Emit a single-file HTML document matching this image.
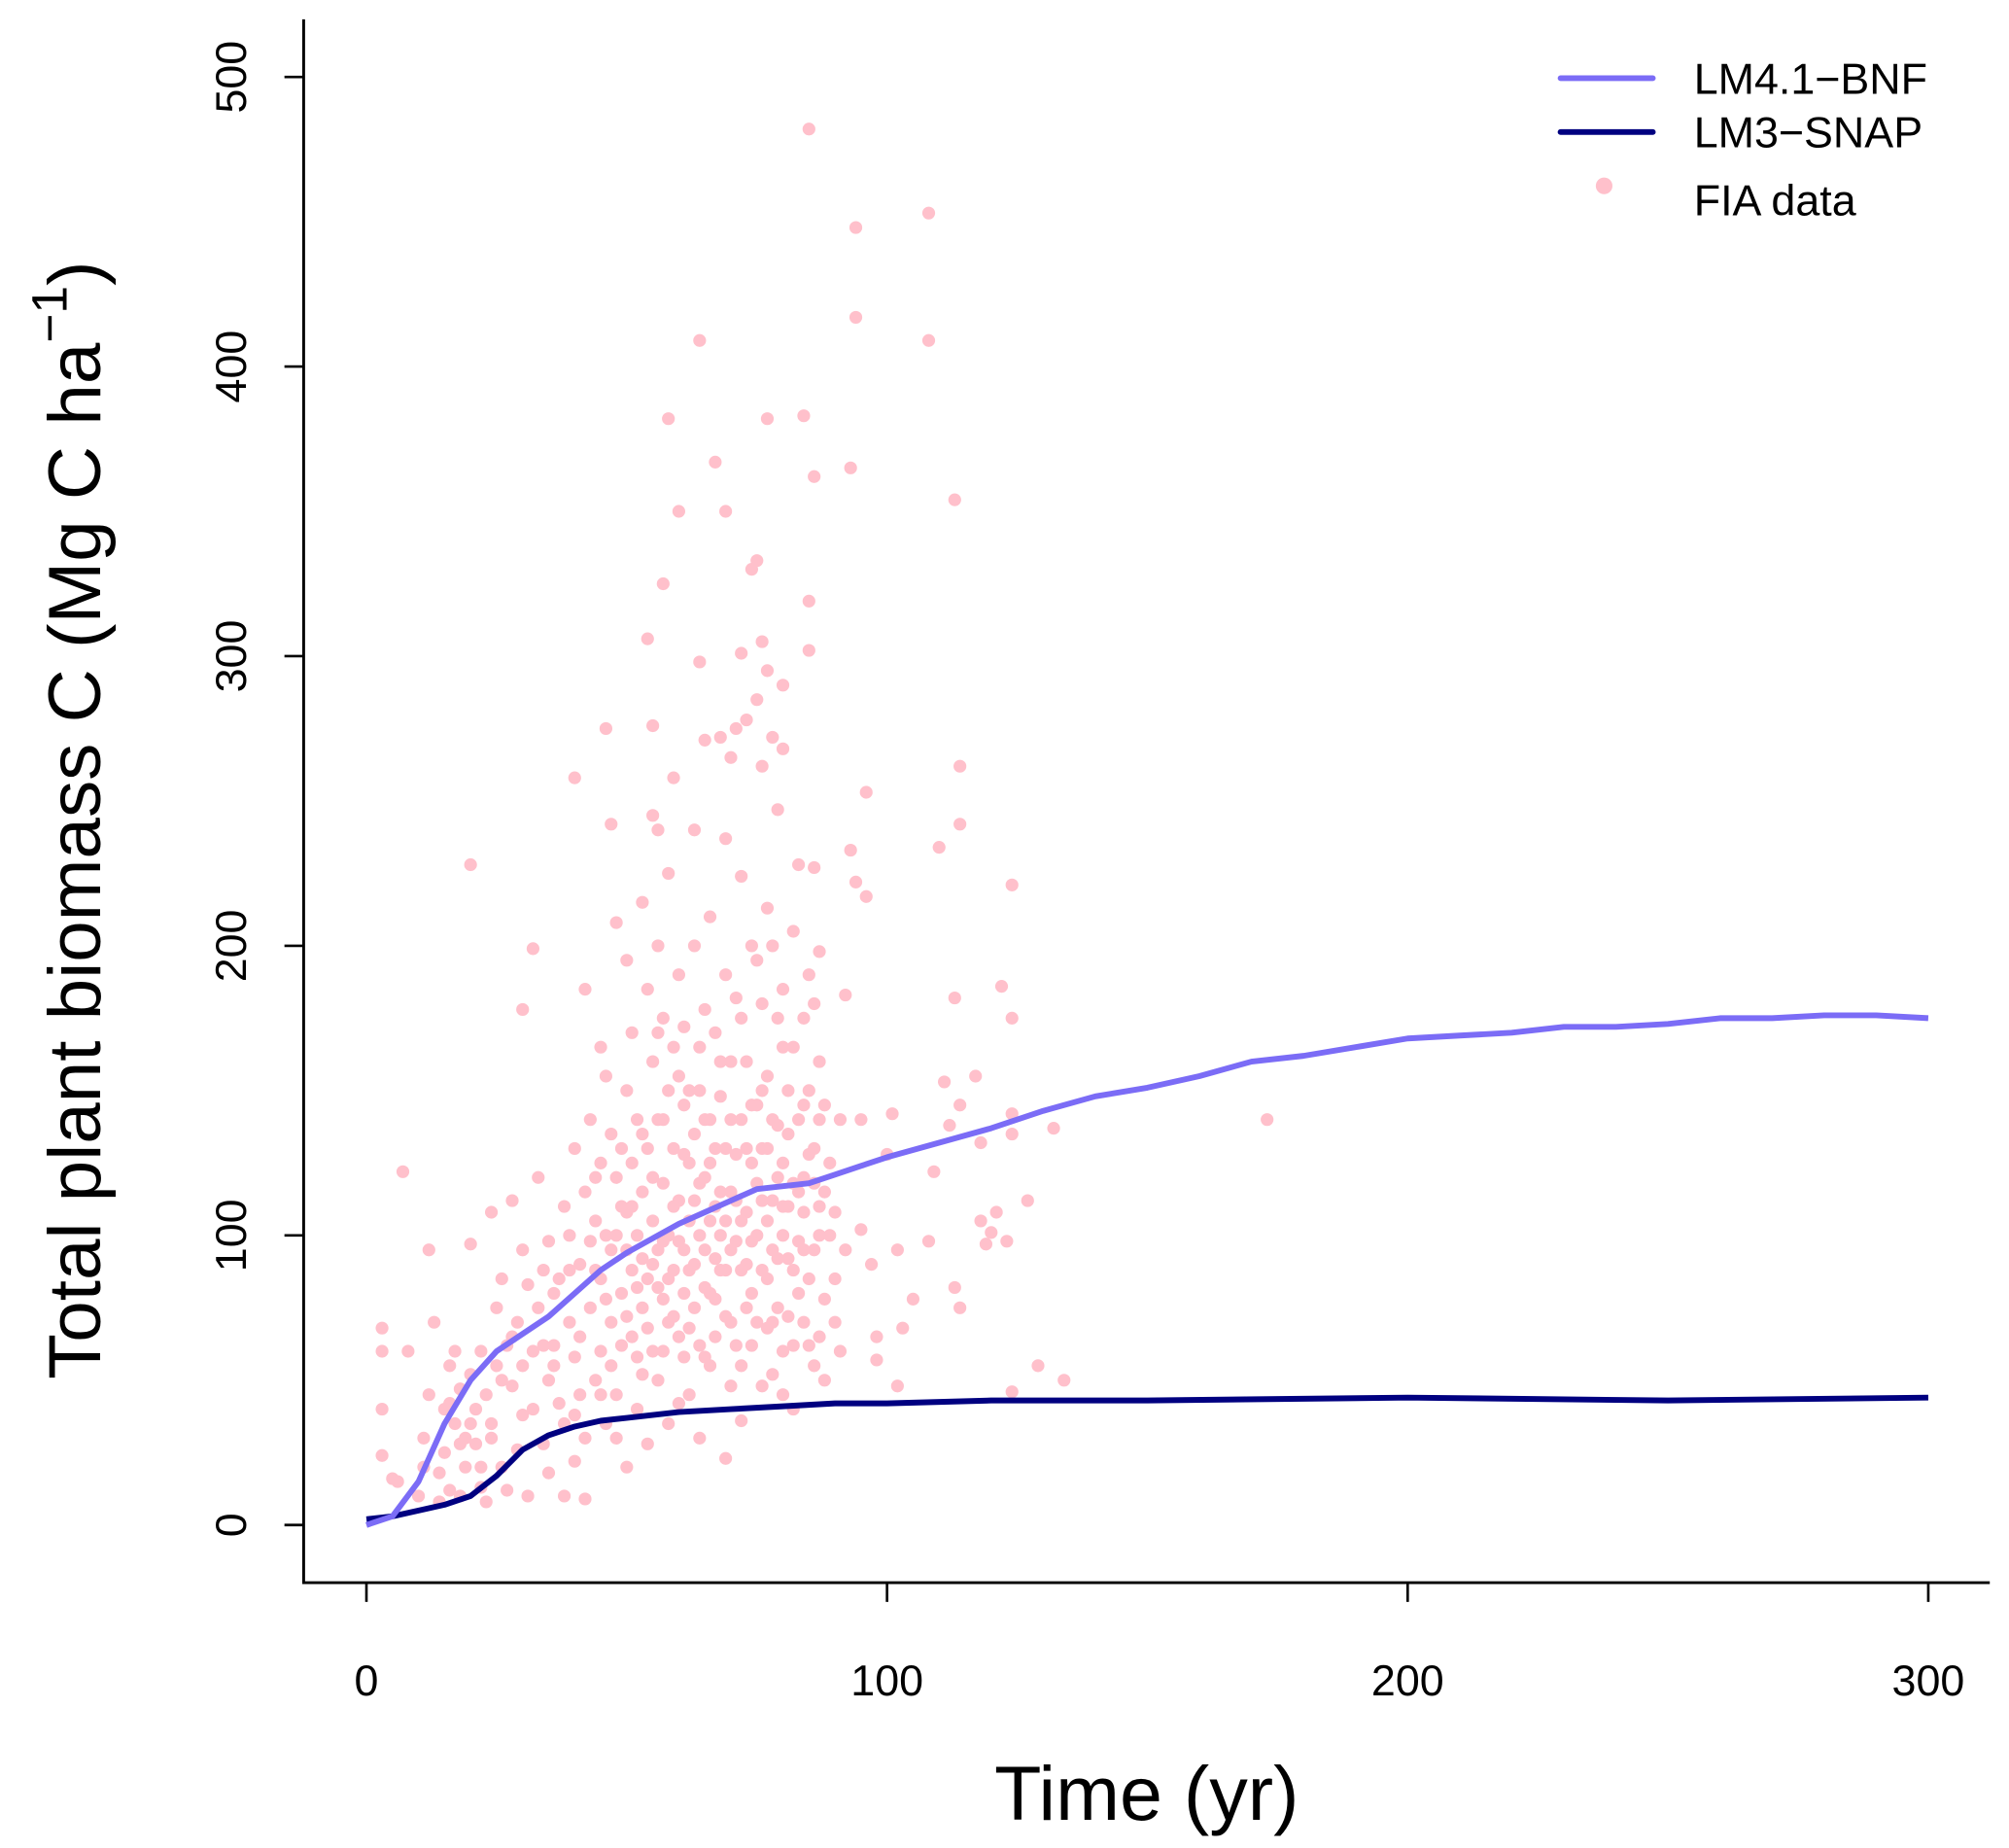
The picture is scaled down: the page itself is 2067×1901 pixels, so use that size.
<!DOCTYPE html>
<html><head><meta charset="utf-8"><style>
html,body{margin:0;padding:0;background:#fff;}
svg{display:block;font-family:"Liberation Sans",sans-serif;}
</style></head><body>
<svg id="chart" width="2067" height="1901" viewBox="0 0 1568 1442" xmlns="http://www.w3.org/2000/svg">
<rect width="1568" height="1442" fill="#fff"/>
<g id="points"></g>
<g id="lines"></g>
<g id="axes" stroke="#000" stroke-width="2.2" fill="none">
<line x1="237" y1="15" x2="237" y2="1236"/>
<line x1="236" y1="1235" x2="1553" y2="1235"/>
</g>
<g id="ticks"></g>
<text x="895" y="1420" font-size="60" text-anchor="middle">Time (yr)</text>
<text transform="translate(78,640) rotate(-90)" font-size="58" text-anchor="middle">Total plant biomass C (Mg C ha<tspan font-size="39" dy="-26">−1</tspan><tspan dy="26">)</tspan></text>
<g>
<line x1="1218" y1="61" x2="1290" y2="61" stroke="#7B6CF6" stroke-width="4.5" stroke-linecap="round"/>
<text x="1322" y="73" font-size="34">LM4.1−BNF</text>
<line x1="1218" y1="103" x2="1290" y2="103" stroke="#000080" stroke-width="4.5" stroke-linecap="round"/>
<text x="1322" y="115" font-size="34">LM3−SNAP</text>
<circle cx="1252" cy="145" r="6.5" fill="#FFC0CB"/>
<text x="1322" y="168" font-size="34">FIA data</text>
</g>
</svg>
<script>
const xTicks=[0,100,200,300];
const yTicks=[0,100,200,300,400,500];
const bnfYears=[0,5,10,15,20,25,30,35,40,45,50,55,60,65,70,75,80,85,90,95,100,110,120,130,140,150,160,170,180,190,200,210,220,230,240,250,260,270,280,290,300];
const bnfValues=[0,3,15,35,50,60,66,72,80,88,94,99,104,108,112,116,117,118,121,124,127,132,137,143,148,151,155,160,162,165,168,169,170,172,172,173,175,175,176,176,175];
const snapYears=[0,5,10,15,20,25,30,35,40,45,50,55,60,70,80,90,100,120,150,200,250,300];
const snapValues=[2,3,5,7,10,17,26,31,34,36,37,38,39,40,41,42,42,43,43,44,43,44];
const fiaPoints=[[3,68],[3,60],[3,40],[3,24],[5,16],[6,15],[7,122],[8,60],[10,10],[11,20],[11,30],[12,45],[12,95],[13,70],[14,18],[14,8],[15,40],[15,25],[16,12],[16,55],[17,60],[17,35],[18,10],[18,47],[19,30],[19,20],[20,228],[20,97],[20,52],[21,40],[21,28],[22,60],[22,13],[23,45],[23,8],[24,108],[24,35],[25,55],[25,75],[26,20],[26,85],[27,62],[27,12],[28,112],[28,48],[29,70],[29,26],[30,178],[30,95],[30,55],[31,83],[31,10],[32,199],[32,40],[33,120],[33,75],[34,62],[34,28],[35,98],[35,50],[35,18],[36,80],[36,62],[37,85],[38,110],[38,35],[38,10],[39,100],[39,70],[40,258],[40,130],[40,58],[40,22],[41,90],[41,45],[42,185],[42,115],[42,9],[43,140],[43,75],[44,105],[44,50],[45,165],[45,125],[45,85],[45,60],[46,275],[46,155],[46,100],[46,35],[47,242],[47,135],[47,70],[48,208],[48,120],[48,45],[49,110],[49,80],[50,195],[50,150],[50,95],[50,20],[51,170],[51,125],[51,65],[52,140],[52,100],[52,40],[53,215],[53,115],[53,75],[54,306],[54,185],[54,130],[54,85],[55,276],[55,245],[55,160],[55,105],[55,60],[56,240],[56,200],[56,140],[56,95],[56,50],[57,325],[57,175],[57,118],[57,78],[58,382],[58,225],[58,150],[58,100],[58,35],[59,258],[59,130],[59,88],[60,350],[60,190],[60,112],[60,65],[61,172],[61,128],[61,80],[62,150],[62,105],[62,45],[63,240],[63,200],[63,135],[63,90],[64,409],[64,298],[64,165],[64,118],[64,30],[65,271],[65,178],[65,140],[65,95],[65,58],[66,210],[66,125],[66,80],[67,367],[67,170],[67,110],[67,65],[68,272],[68,148],[68,100],[69,350],[69,237],[69,190],[69,130],[69,88],[69,23],[70,265],[70,160],[70,115],[70,70],[71,275],[71,182],[71,98],[72,301],[72,224],[72,140],[72,55],[73,278],[73,160],[73,108],[74,330],[74,200],[74,125],[74,80],[75,333],[75,285],[75,195],[75,145],[75,100],[76,305],[76,262],[76,180],[76,130],[76,48],[77,382],[77,295],[77,213],[77,155],[77,85],[78,272],[78,200],[78,112],[78,70],[79,247],[79,175],[79,138],[79,92],[80,290],[80,268],[80,185],[80,125],[80,60],[81,150],[81,110],[82,205],[82,165],[82,88],[82,40],[83,228],[83,140],[83,98],[84,383],[84,175],[84,120],[84,70],[85,482],[85,319],[85,302],[85,190],[85,150],[85,85],[86,362],[86,227],[86,180],[86,130],[86,95],[87,198],[87,160],[87,110],[87,65],[88,145],[88,115],[88,50],[90,108],[90,85],[91,140],[91,60],[92,183],[93,365],[93,233],[94,448],[94,417],[94,222],[95,140],[95,102],[96,253],[96,217],[97,90],[98,65],[98,57],[100,128],[101,142],[102,95],[102,48],[103,68],[105,78],[108,453],[108,409],[108,98],[109,122],[110,234],[111,153],[112,138],[113,354],[113,182],[113,82],[114,262],[114,242],[114,145],[114,75],[117,155],[118,105],[118,132],[119,97],[120,101],[121,108],[122,186],[123,98],[124,221],[124,175],[124,142],[124,135],[124,46],[127,112],[129,55],[132,137],[134,50],[173,140],
[44,88],[47,95],[49,130],[51,110],[53,92],[55,120],[57,98],[59,110],[61,95],[63,112],[65,120],[67,92],[69,105],[71,128],[73,90],[75,118],[77,105],[79,120],[81,92],[83,115],[85,128],[87,100],[52,58],[58,70],[62,68],[66,55],[70,48],[74,62],[78,52],[82,62],[86,55],[48,30],[54,28],[60,42],[72,36],[80,45],[64,150],[68,160],[72,175],[76,150],[80,165],[84,145],[56,170],[60,155],
[36,55],[37,42],[39,88],[41,65],[43,98],[44,120],[46,78],[47,55],[48,100],[49,62],[50,72],[50,108],[51,88],[52,82],[53,135],[53,52],[54,68],[55,90],[56,82],[57,60],[57,140],[58,85],[59,72],[59,165],[60,98],[61,58],[61,145],[62,88],[62,125],[63,75],[64,100],[64,62],[65,82],[66,105],[66,140],[67,78],[67,130],[68,88],[68,115],[69,72],[70,95],[70,140],[71,62],[71,112],[72,88],[72,105],[73,75],[73,130],[74,98],[74,145],[75,70],[76,88],[76,112],[77,68],[77,130],[78,95],[78,140],[79,75],[80,100],[80,110],[81,72],[81,135],[82,118],[83,80],[84,95],[84,108],[85,62],[86,118],[87,140],[88,78],[89,100],[89,125],[90,70],[92,95],[40,38],[42,30],[45,45],[30,38],[32,60],[34,88],[28,65],[26,50],[24,30],[22,20],[20,35],[18,28],[16,42]];
const NS='http://www.w3.org/2000/svg';
function xs(v){return 286+(v/300)*(1505-286);}
function ys(v){return 1190-(v/500)*(1190-60);}
const pg=document.getElementById('points');
fiaPoints.forEach(p=>{
  const c=document.createElementNS(NS,'circle');
  c.setAttribute('cx',xs(p[0]));c.setAttribute('cy',ys(p[1]));c.setAttribute('r',5);
  c.setAttribute('fill','#FFC0CB');
  
  
  pg.appendChild(c);
});
const lg=document.getElementById('lines');
function addLine(xsArr,vals,color,name){
  const p=document.createElementNS(NS,'polyline');
  p.setAttribute('points',xsArr.map((x,i)=>xs(x)+','+ys(vals[i])).join(' '));
  p.setAttribute('fill','none');p.setAttribute('stroke',color);p.setAttribute('stroke-width',4.5);
  p.setAttribute('stroke-linejoin','round');
  
  
  lg.appendChild(p);
}
addLine(snapYears,snapValues,'#000080','lm3-snap-line');
addLine(bnfYears,bnfValues,'#7B6CF6','lm41-bnf-line');
const tg=document.getElementById('ticks');
xTicks.forEach(t=>{
  const l=document.createElementNS(NS,'line');
  l.setAttribute('x1',xs(t));l.setAttribute('x2',xs(t));l.setAttribute('y1',1235);l.setAttribute('y2',1250);
  l.setAttribute('stroke','#000');l.setAttribute('stroke-width',2);
  
  
  tg.appendChild(l);
  const tx=document.createElementNS(NS,'text');
  tx.setAttribute('x',xs(t));tx.setAttribute('y',1323);tx.setAttribute('font-size',34);tx.setAttribute('text-anchor','middle');
  tx.textContent=t;
  
  
  tg.appendChild(tx);
});
yTicks.forEach(t=>{
  const l=document.createElementNS(NS,'line');
  l.setAttribute('x1',222);l.setAttribute('x2',237);l.setAttribute('y1',ys(t));l.setAttribute('y2',ys(t));
  l.setAttribute('stroke','#000');l.setAttribute('stroke-width',2);
  
  
  tg.appendChild(l);
  const tx=document.createElementNS(NS,'text');
  tx.setAttribute('transform','translate(192,'+ys(t)+') rotate(-90)');
  tx.setAttribute('font-size',34);tx.setAttribute('text-anchor','middle');
  tx.textContent=t;
  
  
  tg.appendChild(tx);
});
</script>
</body></html>
